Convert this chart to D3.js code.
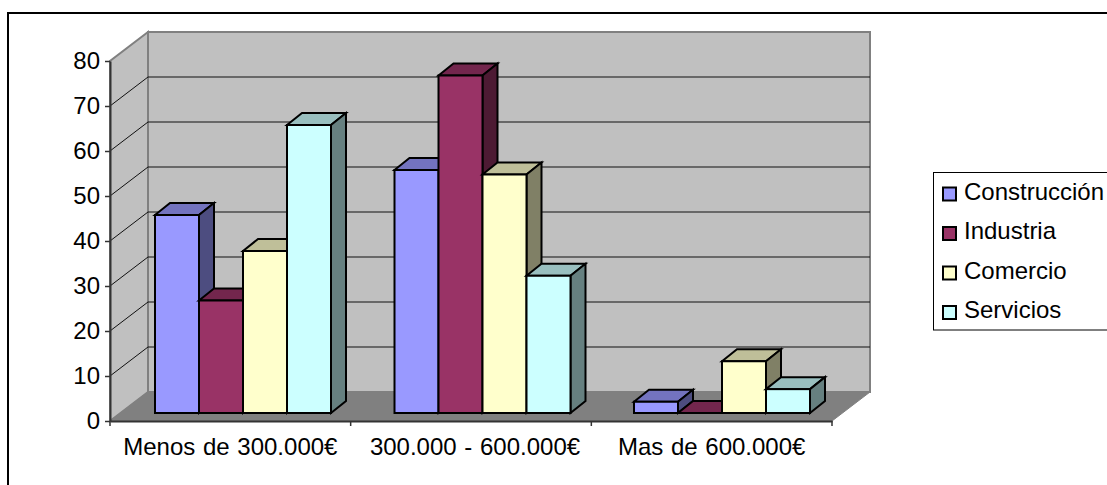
<!DOCTYPE html>
<html>
<head>
<meta charset="utf-8">
<script src="https://cdn.jsdelivr.net/npm/d3@7"></script>
<style>
	html, body { margin: 0; padding: 0; background: #fff; }
	svg { display: block; font-family: "Liberation Sans", Arial, sans-serif; }
</style>
</head>
<body>
<svg id="chart" width="1107" height="485"></svg>
<script>
var categories = ["Menos de 300.000€", "300.000 - 600.000€", "Mas de 600.000€"];
var seriesNames = ["Construcción", "Industria", "Comercio", "Servicios"];
var construccion = [44, 54, 2.5];
var industria = [25, 75, 0];
var comercio = [36, 53, 11.5];
var servicios = [64, 30.5, 5.3];
var seriesValues = [construccion, industria, comercio, servicios];
var yTicks = [0, 10, 20, 30, 40, 50, 60, 70, 80];

var frontColors = ["#9999ff", "#993366", "#ffffcc", "#ccffff"];
var topColors = ["#7373bf", "#73264d", "#bfbf99", "#99bfbf"];
var sideColors = ["#4d4d80", "#4d1a33", "#808066", "#668080"];

var svg = d3.select("#chart");

// frame, the bottom and right edges fall outside the picture
svg.append("rect")
.attr("x", 8)
.attr("y", 13)
.attr("width", 1200)
.attr("height", 600)
.style("fill", "#fff")
.style("stroke", "#000")
.style("stroke-width", 2);

var x = d3.scaleBand().domain(categories).range([110, 832]);
var y = d3.scaleLinear().domain([0, 80]).range([421, 61]);

var wallDx = 38, wallDy = -29;
var barDx = 15, barDy = -12;
var barBase = -8; // bars stand a little behind the front edge of the floor

// bar groups sit on their own slightly tighter step
var xGroup = d3.scaleBand().domain(categories).range([155, 873.5]);
var xBar = d3.scaleBand().domain(d3.range(seriesNames.length)).range([0, 176]);

function poly(g, pts, fill, stroke, sw) {
	return g.append("polygon")
	.attr("points", pts.map(function (p) { return p.join(","); }).join(" "))
	.style("fill", fill)
	.style("stroke", stroke)
	.style("stroke-width", sw)
	.style("stroke-linejoin", "miter");
}

// walls and floor
var walls = svg.append("g");
var x0 = x.range()[0], x1 = x.range()[1], y0 = y(0), yTop = y(80);

poly(walls, [[x0, y0], [x0 + wallDx, y0 + wallDy], [x0 + wallDx, yTop + wallDy], [x0, yTop]], "#c0c0c0", "#808080", 2);
poly(walls, [[x0 + wallDx, y0 + wallDy], [x1 + wallDx, y0 + wallDy], [x1 + wallDx, yTop + wallDy], [x0 + wallDx, yTop + wallDy]], "#c0c0c0", "#808080", 2);
poly(walls, [[x0, y0], [x1, y0], [x1 + wallDx, y0 + wallDy], [x0 + wallDx, y0 + wallDy]], "#808080", "#808080", 1);

// gridlines run along the side wall and the back wall
yTicks.slice(1, -1).forEach(function (t) {
	walls.append("polyline")
	.attr("points", [[x0, y(t)], [x0 + wallDx, y(t) + wallDy], [x1 + wallDx, y(t) + wallDy]].map(function (p) { return p.join(","); }).join(" "))
	.style("fill", "none")
	.style("stroke", "#111")
	.style("stroke-width", 1);
});

// axes
var yAxis = d3.axisLeft(y).tickValues(yTicks).tickSize(5).tickSizeOuter(0);
var yAxisG = svg.append("g").attr("transform", "translate(" + x0 + ",0)").call(yAxis);
var xTickPositions = d3.range(categories.length + 1);
var xAxis = d3.axisBottom(x).tickSize(0).tickSizeOuter(0).tickPadding(14);
var xAxisG = svg.append("g").attr("transform", "translate(0," + y0 + ")").call(xAxis);

xAxisG.selectAll(".tick-mark")
.data(xTickPositions)
.enter()
.append("line")
.attr("x1", function (d) { return x0 + d * x.bandwidth(); })
.attr("x2", function (d) { return x0 + d * x.bandwidth(); })
.attr("y1", 0)
.attr("y2", 5)
.style("stroke", "#333")
.style("stroke-width", 1.5);

[yAxisG, xAxisG].forEach(function (g) {
	g.selectAll("path.domain").style("stroke", "#333").style("stroke-width", 2);
	g.selectAll(".tick line").style("stroke", "#333").style("stroke-width", 1.5);
	g.selectAll("text")
	.style("font-family", '"Liberation Sans", Arial, sans-serif')
	.style("font-size", "24px")
	.style("fill", "#000");
});
yAxisG.selectAll("text").attr("x", -10);
xAxisG.selectAll("text")
.attr("y", 34)
.attr("dy", 0)
.attr("dx", function (d, i) { return i == 1 ? 4 : 0; })
.style("word-spacing", "1px");

// bars
categories.forEach(function (cat, c) {
	seriesNames.forEach(function (name, s) {
		var v = seriesValues[s][c];
		var g = svg.append("g");
		var left = xGroup(cat) + xBar(s);
		var right = left + xBar.bandwidth();
		var bottom = y(0) + barBase;
		var top = y(v) + barBase;

		poly(g, [[left, top], [left + barDx, top + barDy], [right + barDx, top + barDy], [right, top]], topColors[s], "#000", 2);
		poly(g, [[right, bottom], [right + barDx, bottom + barDy], [right + barDx, top + barDy], [right, top]], sideColors[s], "#000", 2);
		g.append("rect")
		.attr("x", left)
		.attr("y", top)
		.attr("width", xBar.bandwidth())
		.attr("height", bottom - top)
		.style("fill", frontColors[s])
		.style("stroke", "#000")
		.style("stroke-width", 2);
	});
});

// legend
var legend = svg.append("g");
legend.append("rect")
.attr("x", 933.5)
.attr("y", 172.5)
.attr("width", 300)
.attr("height", 157.5)
.style("fill", "#fff")
.style("stroke", "#000")
.style("stroke-width", 1);

var legendY = d3.scalePoint().domain(seriesNames).range([194, 312.5]);
seriesNames.forEach(function (name, s) {
	var row = legend.append("g").attr("transform", "translate(0," + legendY(name) + ")");
	row.append("rect")
	.attr("x", 943)
	.attr("y", -6.5)
	.attr("width", 13)
	.attr("height", 13)
	.style("fill", frontColors[s])
	.style("stroke", "#000")
	.style("stroke-width", 2);
	row.append("text")
	.attr("x", 964)
	.attr("y", 5.5)
	.style("font-size", "24px")
	.style("fill", "#000")
	.text(name);
});
</script>
</body>
</html>
